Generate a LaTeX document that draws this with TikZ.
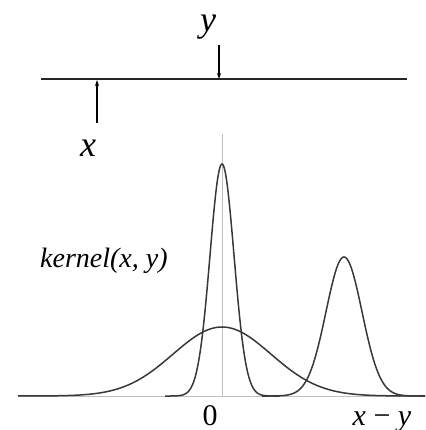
\documentclass[tikz,border=0pt]{standalone}
\usepackage{fontspec}
\setmainfont{Liberation Serif}
\usetikzlibrary{arrows.meta}
\tikzset{
  curve/.style={draw=black!78, line width=1.5pt, smooth},
  axis/.style={draw=black!25, line width=0.9pt},
  ptr/.style={draw=black, line width=1.1pt, -{Stealth[length=6pt,width=4pt]}},
  lbl/.style={anchor=base, inner sep=0pt, font=\fontsize{36}{36}\selectfont\itshape},
  klbl/.style={anchor=base west, inner sep=0pt, font=\fontsize{28}{28}\selectfont\itshape},
  tick/.style={anchor=base, inner sep=0pt, font=\fontsize{30}{30}\selectfont},
}
\begin{document}
\begin{tikzpicture}[x=1pt,y=-1pt]
\useasboundingbox (0,0) rectangle (425,430);
% top line and pointers
\coordinate (L0) at (41,79);
\coordinate (L1) at (407,79);
\draw[line width=1.5pt, draw=black!85] (L0) -- (L1);
\coordinate (ys) at (219,45);
\coordinate (ye) at (219,79);
\draw[ptr] (ys) -- (ye);
\coordinate (xs) at (97,123);
\coordinate (xe) at (97,80);
\draw[ptr] (xs) -- (xe);
\node[lbl] (ylab) at (208,32) {y};
\node[lbl] (xlab) at (88,157) {x};
% axes
\coordinate (B0) at (18,396);
\coordinate (B1) at (425,396);
\coordinate (V0) at (222,134);
\coordinate (V1) at (222,396);
\draw[axis] (B0) -- (B1);
\draw[axis] (V0) -- (V1);
% curves
\draw[curve, domain=18:425, samples=200] plot (\x, {396-69*exp(-0.5*((\x-222)/49)^2)});
\draw[curve, domain=165:279, samples=150] plot (\x, {396-232*exp(-0.5*((\x-222)/12)^2)});
\draw[curve, domain=262:425, samples=150] plot (\x, {396-139*exp(-0.5*((\x-344)/18)^2)});
% labels
\node[klbl] (kern) at (40,267) {kernel(x, y)};
\node[tick] (zero) at (210,425) {0};
\node[tick] (xmy) at (382,425) {\textit{x} − \textit{y}};
\end{tikzpicture}
\end{document}
